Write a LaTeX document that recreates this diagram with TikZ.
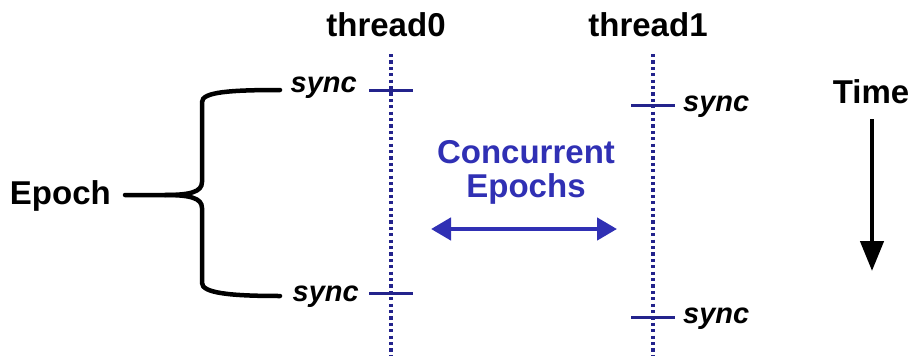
\documentclass[tikz,border=0pt]{standalone}
\usepackage{fontspec}
\setmainfont{Liberation Sans}
\usetikzlibrary{arrows.meta}
\definecolor{lanec}{RGB}{35,35,140}
\definecolor{concc}{RGB}{48,48,180}
\begin{document}
\begin{tikzpicture}[x=1pt,y=-1pt,
  lbl/.style={font=\fontsize{33}{38}\selectfont\bfseries, inner sep=0pt},
  synclbl/.style={font=\fontsize{29}{34}\selectfont\bfseries\itshape, inner sep=0pt},
  lane/.style={lanec, line width=3.4pt, dash pattern=on 3.2pt off 3.2pt},
  tick/.style={lanec, line width=3pt},
  brace/.style={black, line width=4.5pt, line cap=round}]
\useasboundingbox (0,0) rectangle (915,356);

% thread lanes
\node[lbl] (t0) at (386,25) {thread0};
\node[lbl] (t1) at (648,25) {thread1};
\coordinate (t0top) at (391,54);
\coordinate (t0bot) at (391,356);
\coordinate (t1top) at (653,54);
\coordinate (t1bot) at (653,356);
\draw[lane] (t0top) -- (t0bot);
\draw[lane] (t1top) -- (t1bot);

% sync points
\coordinate (s0a) at (391,90);
\coordinate (s0b) at (391,293);
\coordinate (s1a) at (653,105);
\coordinate (s1b) at (653,317);
\draw[tick] ([xshift=-22pt]s0a) -- ([xshift=22pt]s0a);
\draw[tick] ([xshift=-22pt]s0b) -- ([xshift=22pt]s0b);
\draw[tick] ([xshift=-22pt]s1a) -- ([xshift=22pt]s1a);
\draw[tick] ([xshift=-22pt]s1b) -- ([xshift=22pt]s1b);
\node[synclbl, anchor=east] (sy0a) at (357,88) {sync};
\node[synclbl, anchor=east] (sy0b) at (359,297) {sync};
\node[synclbl, anchor=west] (sy1a) at (683,107) {sync};
\node[synclbl, anchor=west] (sy1b) at (683,319) {sync};

% epoch brace
\node[lbl, anchor=east] (ep) at (111,196) {Epoch};
\draw[brace] (ep.east) ++(14,-1) -- (165,195)
  .. controls (190,195) and (202,192) .. (202,182)
  -- (202,102) .. controls (202,92) and (230,90) .. (280,90);
\draw[brace] (165,195) .. controls (190,195) and (202,198) .. (202,208)
  -- (202,283) .. controls (202,293) and (230,296) .. (280,296);

% concurrent epochs
\node[lbl, concc, align=center, font=\fontsize{33}{34}\selectfont\bfseries] (ce) at (526,172) {Concurrent\\Epochs};
\coordinate (cl) at (431,229);
\coordinate (cr) at (617,229);
\draw[concc, line width=4.5pt, {Triangle[length=20pt,width=22pt]}-{Triangle[length=20pt,width=22pt]}] (cl) -- (cr);

% time arrow
\node[lbl] (tm) at (871,92) {Time};
\coordinate (ta) at (872,119);
\coordinate (tb) at (872,271);
\draw[black, line width=4.5pt, -{Triangle[length=30pt,width=23pt]}] (ta) -- (tb);
\end{tikzpicture}
\end{document}
